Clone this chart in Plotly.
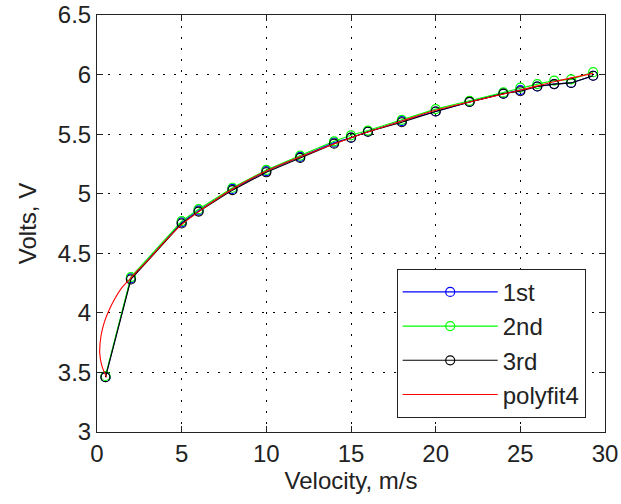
import plotly.graph_objects as go

# Velocity (m/s) at which the three calibration runs were taken
velocity = [0.5, 2, 5, 6, 8, 10, 12, 14, 15, 16, 18, 20, 22, 24, 25, 26, 27, 28, 29.3]

# Voltages read from the three runs
volts_1st = [3.46, 4.29, 4.76, 4.86, 5.04, 5.19, 5.31, 5.43, 5.47, 5.52, 5.61, 5.69, 5.77, 5.84, 5.87, 5.90, 5.92, 5.93, 5.99]
volts_2nd = [3.47, 4.30, 4.77, 4.87, 5.05, 5.20, 5.32, 5.44, 5.49, 5.53, 5.62, 5.71, 5.78, 5.85, 5.89, 5.92, 5.95, 5.96, 6.02]
volts_3rd = [3.46, 4.28, 4.75, 4.85, 5.03, 5.18, 5.30, 5.42, 5.47, 5.52, 5.60, 5.69, 5.77, 5.84, 5.86, 5.90, 5.92, 5.93, 5.99]

# 4th-order polynomial fit curve (velocity as a function of voltage)
fit_velocity = [0.57, 0.28, 0.16, 0.24, 0.43, 0.67, 1.06, 1.46, 1.85, 2.44, 3, 4, 5, 6, 8, 10, 12, 15, 18, 20, 22, 25, 27, 29.3]
fit_volts = [3.46, 3.56, 3.67, 3.81, 3.92, 4.01, 4.12, 4.21, 4.27, 4.36, 4.44, 4.60, 4.74, 4.85, 5.04, 5.19, 5.31, 5.47, 5.61, 5.70, 5.77, 5.87, 5.94, 6.01]

x_ticks = [0, 5, 10, 15, 20, 25, 30]
y_ticks = [3, 3.5, 4, 4.5, 5, 5.5, 6, 6.5]

FONT = "Liberation Sans, Arial, sans-serif"

fig = go.Figure()

def run_trace(y, name, color):
    return go.Scatter(
        x=velocity, y=y, name=name, mode="lines+markers",
        line=dict(color=color, width=1.1),
        marker=dict(symbol="circle-open", size=9, color=color, line=dict(width=1.2, color=color)),
    )

fig.add_trace(run_trace(volts_1st, "1st", "#0000FF"))
fig.add_trace(run_trace(volts_2nd, "2nd", "#00FF00"))
fig.add_trace(run_trace(volts_3rd, "3rd", "#000000"))
fig.add_trace(go.Scatter(
    x=fit_velocity, y=fit_volts, name="polyfit4", mode="lines",
    line=dict(color="#FF0000", width=1.1, shape="spline", smoothing=1.0),
))

axis_common = dict(
    showline=True, linecolor="#222", linewidth=1, mirror="allticks",
    ticks="inside", ticklen=6, tickcolor="#222",
    showgrid=True, gridcolor="#000", gridwidth=1, griddash="2px,9px",
    zeroline=False,
    tickfont=dict(family=FONT, size=24, color="#222"),
)

fig.update_xaxes(
    range=[0, 30], tickvals=x_ticks,
    title=dict(text="Velocity, m/s", font=dict(family=FONT, size=24, color="#222"), standoff=4),
    **axis_common,
)
fig.update_yaxes(
    range=[3, 6.5], tickvals=y_ticks,
    title=dict(text="Volts, V", font=dict(family=FONT, size=24, color="#222"), standoff=14),
    **axis_common,
)

fig.update_layout(
    width=621, height=504,
    margin=dict(l=97, r=16, t=15, b=72, autoexpand=False),
    paper_bgcolor="white", plot_bgcolor="white",
    showlegend=True,
    legend=dict(
        x=0.962, xanchor="right", y=0.034, yanchor="bottom",
        bgcolor="white", bordercolor="#222", borderwidth=1,
        font=dict(family=FONT, size=24, color="#222"),
        itemwidth=95, tracegroupgap=0,
    ),
)
fig.update_xaxes(automargin=False)
fig.update_yaxes(automargin=False)

fig.write_html("out.html")
